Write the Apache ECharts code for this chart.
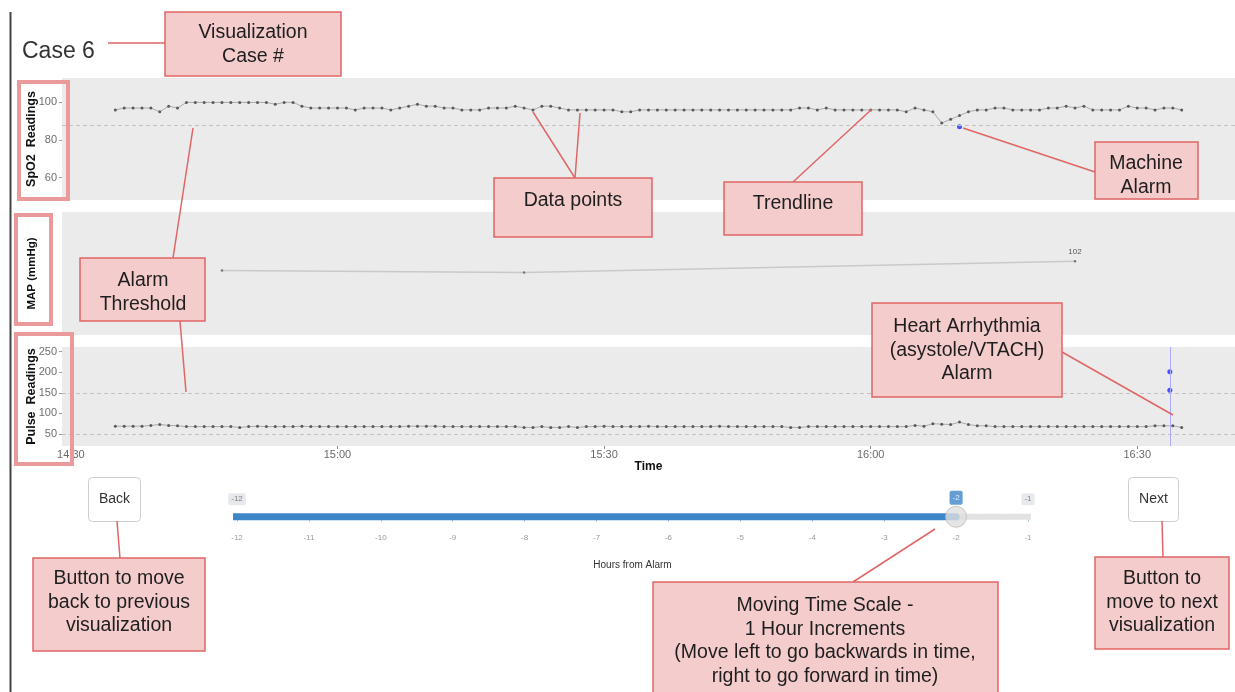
<!DOCTYPE html>
<html><head><meta charset="utf-8">
<script src="https://cdn.jsdelivr.net/npm/echarts@6/dist/echarts.min.js"></script>
<style>html,body{margin:0;padding:0;background:#fff}#c{width:1235px;height:692px}</style>
</head><body><div id="c"></div>
<script>
// ---------------- data ----------------
const caseTitle = 'Case 6';
const firstReading = '14:35';          // readings are one per minute
const spo2Values = [
  96,97,97,97,97,95,98,97,100,100,
  100,100,100,100,100,100,100,100,99,100,
  100,98,97,97,97,97,97,96,97,97,
  97,96,97,98,99,98,98,97,97,96,
  96,96,97,97,97,98,97,96,98,98,
  97,96,96,96,96,96,96,95,95,96,
  96,96,96,96,96,96,96,96,96,96,
  96,96,96,96,96,96,96,97,97,96,
  97,96,96,96,96,96,96,96,96,95,
  97,96,95,89,91,93,95,96,96,97,
  97,96,96,96,96,97,97,98,97,98,
  96,96,96,96,98,97,97,96,97,97,
  96
];
const pulseValues = [
  69,69,69,69,71,73,71,70,68,68,
  68,68,68,68,66,68,69,68,68,68,
  68,69,68,68,68,68,68,68,68,68,
  68,68,68,69,69,69,69,68,68,68,
  68,68,68,68,68,68,66,66,68,66,
  66,68,66,68,68,69,68,68,68,68,
  69,68,68,68,68,68,68,68,69,68,
  68,68,68,68,68,68,66,66,68,68,
  68,68,68,68,68,68,68,68,68,68,
  71,69,75,74,73,79,73,70,70,68,
  68,68,68,68,68,68,68,68,68,68,
  68,68,68,68,68,68,68,70,70,70,
  66
];
const mapTimes = ['14:47', '15:21', '16:23'];
const mapValues = [93, 91, 102];
const spo2AlarmTimes = ['16:10'];
const spo2AlarmValues = [87];
const pulseAlarmTimes = ['16:33:40', '16:33:40'];
const pulseAlarmValues = [201, 156];
const spo2Thresholds = [88];
const pulseThresholds = [150, 50];
const timeTicks = ['14:30', '15:00', '15:30', '16:00', '16:30'];
const spo2Ticks = [60, 80, 100];
const pulseTicks = [50, 100, 150, 200, 250];
const sliderMin = -12, sliderMax = -1, sliderValue = -2;

// ---------------- helpers ----------------
const toMin = s => { const p = s.split(':').map(Number); return p[0] * 60 + p[1] + (p[2] || 0) / 60; };
const fmtTime = m => { const h = Math.floor(m / 60), mm = Math.round(m - h * 60); return h + ':' + String(mm).padStart(2, '0'); };
const t0 = toMin(firstReading);
const spo2Data = spo2Values.map((v, i) => [t0 + i, v]);
const pulseData = pulseValues.map((v, i) => [t0 + i, v]);
const mapData = mapValues.map((v, i) => ({ value: [toMin(mapTimes[i]), v], label: { show: i === mapValues.length - 1 } }));
const spo2Alarm = spo2AlarmValues.map((v, i) => [toMin(spo2AlarmTimes[i]), v]);
const pulseAlarm = pulseAlarmValues.map((v, i) => [toMin(pulseAlarmTimes[i]), v]);
const tickMins = timeTicks.map(toMin);

const FONT = 'Liberation Sans, Arial, Helvetica, sans-serif';
const X_MIN = toMin('14:29'), X_MAX = toMin('16:41');
const PANEL_BG = '#ebebeb';
const LINE_C = '#ababab', DOT_C = '#5a5a5a', THR_C = '#c2c2c2';

const gridBase = { left: 62, width: 1178, show: true, backgroundColor: PANEL_BG, borderWidth: 0 };
const hiddenX = i => ({ type: 'value', gridIndex: i, min: X_MIN, max: X_MAX, show: false });

const thrMark = vals => ({
  silent: true, symbol: ['none', 'none'], label: { show: false },
  lineStyle: { color: THR_C, type: [4, 3], width: 1 },
  data: vals.map(v => ({ yAxis: v }))
});

const yLab = { color: '#6e6e6e', fontSize: 11, margin: 5 };
const yTick = { length: 3, lineStyle: { color: '#9a9a9a' } };
const yName = { fontWeight: 'bold', fontSize: 12.5, color: '#111', fontFamily: FONT };

// ---------------- annotations ----------------
const boxes = [
  { x: 165, y: 12, w: 176, h: 64, cx: 253, ty: 33, t: ['Visualization', 'Case #'] },
  { x: 494, y: 178, w: 158, h: 59, cx: 573, ty: 201, t: ['Data points'] },
  { x: 724, y: 182, w: 138, h: 53, cx: 793, ty: 204, t: ['Trendline'] },
  { x: 1095, y: 142, w: 103, h: 57, cx: 1146, ty: 164, t: ['Machine', 'Alarm'] },
  { x: 80, y: 258, w: 125, h: 63, cx: 143, ty: 281, t: ['Alarm', 'Threshold'] },
  { x: 872, y: 303, w: 190, h: 94, cx: 967, ty: 327, t: ['Heart Arrhythmia', '(asystole/VTACH)', 'Alarm'] },
  { x: 33, y: 558, w: 172, h: 93, cx: 119, ty: 579, t: ['Button to move', 'back to previous', 'visualization'] },
  { x: 653, y: 582, w: 345, h: 120, cx: 825, ty: 606, t: ['Moving Time Scale -', '1 Hour Increments', '(Move left to go backwards in time,', 'right to go forward in time)'] },
  { x: 1095, y: 557, w: 134, h: 92, cx: 1162, ty: 579, t: ['Button to', 'move to next', 'visualization'] }
];
const leaders = [
  [108, 43, 165, 43],
  [575, 178, 533, 112], [575, 178, 580, 113],
  [793, 182, 872, 109],
  [963, 128, 1095, 172],
  [173, 258, 193, 128], [180, 321, 186, 392],
  [1062, 352, 1173, 415],
  [117, 521, 120, 558],
  [935, 529, 853, 582],
  [1162, 521, 1163, 557]
];
const labelFrames = [
  [19, 82, 49, 117], [16, 215, 35, 109], [16, 334, 56, 130]
];
const LH = 23.4;
const graphics = [];
graphics.push({ type: 'line', z: 100, shape: { x1: 10.5, y1: 12, x2: 10.5, y2: 692 }, style: { stroke: '#444', lineWidth: 2 } });
graphics.push({ type: 'text', z: 100, style: { text: caseTitle, x: 22, y: 52, textVerticalAlign: 'middle', fontSize: 23, fontFamily: FONT, fill: '#333' } });
leaders.forEach(l => graphics.push({ type: 'line', z: 101, shape: { x1: l[0], y1: l[1], x2: l[2], y2: l[3] }, style: { stroke: '#e06666', lineWidth: 1.5 } }));
boxes.forEach(b => {
  graphics.push({ type: 'rect', z: 102, shape: { x: b.x, y: b.y, width: b.w, height: b.h }, style: { fill: '#f4cccc', stroke: '#e06666', lineWidth: 1.5 } });
  graphics.push({ type: 'text', z: 103, style: { text: b.t.join('\n'), x: b.cx, y: b.ty - LH / 2, textAlign: 'center', textVerticalAlign: 'top', lineHeight: LH, fontSize: 19.5, fontFamily: FONT, fill: '#1e1e1e' } });
});
labelFrames.forEach(f => graphics.push({ type: 'rect', z: 102, shape: { x: f[0], y: f[1], width: f[2], height: f[3] }, style: { fill: 'none', stroke: '#ea9a9a', lineWidth: 4 } }));
[[88, 477, 52, 'Back'], [1128, 477, 50, 'Next']].forEach(b => {
  graphics.push({ type: 'rect', z: 99, shape: { x: b[0] + 0.5, y: b[1] + 0.5, width: b[2], height: 44, r: 4 }, style: { fill: '#fff', stroke: '#cfcfcf', lineWidth: 1 } });
  graphics.push({ type: 'text', z: 100, style: { text: b[3], x: b[0] + b[2] / 2 + 0.5, y: b[1] + 22, textAlign: 'center', textVerticalAlign: 'middle', fontSize: 14, fontFamily: FONT, fill: '#333' } });
});

// ---------------- chart ----------------
const chart = echarts.init(document.getElementById('c'), null, { renderer: 'canvas' });
chart.setOption({
  animation: false,
  backgroundColor: '#fff',
  textStyle: { fontFamily: FONT },
  grid: [
    Object.assign({ top: 78, height: 122 }, gridBase),
    Object.assign({ top: 212, height: 123 }, gridBase),
    Object.assign({ top: 347, height: 99 }, gridBase),
    { left: 237, width: 791, top: 513.5, height: 6.5, show: false }
  ],
  xAxis: [
    hiddenX(0), hiddenX(1),
    {
      type: 'value', gridIndex: 2, min: X_MIN, max: X_MAX,
      axisLine: { show: false }, splitLine: { show: false },
      axisTick: { show: true, customValues: tickMins, length: 3, lineStyle: { color: '#8a8a8a' } },
      axisLabel: { customValues: tickMins, formatter: v => fmtTime(v), color: '#6a6a6a', fontSize: 11, margin: 3 },
      name: 'Time', nameLocation: 'middle', nameGap: 15, nameMoveOverlap: false,
      nameTextStyle: { fontWeight: 'bold', fontSize: 12, color: '#111' }
    },
    {
      type: 'value', gridIndex: 3, min: sliderMin, max: sliderMax, interval: 1,
      axisLine: { show: false }, splitLine: { show: false },
      axisTick: { show: true, length: 5, lineStyle: { color: '#a9c6e6' } },
      minorTick: { show: true, splitNumber: 3, length: 3, lineStyle: { color: '#cfcfcf' } },
      axisLabel: { color: '#9a9a9a', fontSize: 8, margin: 14 },
      name: 'Hours from Alarm', nameLocation: 'middle', nameGap: 40, nameMoveOverlap: false,
      nameTextStyle: { fontSize: 10, color: '#333' }
    }
  ],
  yAxis: [
    {
      type: 'value', gridIndex: 0, min: 48, max: 113,
      axisLine: { show: false }, splitLine: { show: false },
      axisTick: Object.assign({ show: true, customValues: spo2Ticks }, yTick),
      axisLabel: Object.assign({ customValues: spo2Ticks }, yLab),
      name: 'SpO2  Readings', nameLocation: 'middle', nameGap: 24, nameMoveOverlap: false, nameTextStyle: yName
    },
    {
      type: 'value', gridIndex: 1, min: 30, max: 150,
      axisLine: { show: false }, splitLine: { show: false }, axisTick: { show: false }, axisLabel: { show: false },
      name: 'MAP (mmHg)', nameLocation: 'middle', nameGap: 24, nameMoveOverlap: false, nameTextStyle: Object.assign({}, yName, { fontSize: 11.5 })
    },
    {
      type: 'value', gridIndex: 2, min: 21, max: 261,
      axisLine: { show: false }, splitLine: { show: false },
      axisTick: Object.assign({ show: true, customValues: pulseTicks }, yTick),
      axisLabel: Object.assign({ customValues: pulseTicks }, yLab),
      name: 'Pulse  Readings', nameLocation: 'middle', nameGap: 24, nameMoveOverlap: false, nameTextStyle: yName
    },
    { type: 'value', gridIndex: 3, min: -1, max: 1, show: false }
  ],
  series: [
    {
      type: 'line', xAxisIndex: 0, yAxisIndex: 0, data: spo2Data, silent: true,
      symbol: 'circle', symbolSize: 3, showAllSymbol: true,
      lineStyle: { color: LINE_C, width: 1 }, itemStyle: { color: DOT_C },
      markLine: thrMark(spo2Thresholds)
    },
    {
      type: 'scatter', xAxisIndex: 0, yAxisIndex: 0, data: spo2Alarm, silent: true,
      symbolSize: 5, itemStyle: { color: '#1f2bff' }
    },
    {
      type: 'line', xAxisIndex: 1, yAxisIndex: 1, data: mapData, silent: true,
      symbol: 'circle', symbolSize: 2.5, showAllSymbol: true,
      lineStyle: { color: '#c9c9c9', width: 1.5 }, itemStyle: { color: '#777' },
      label: { position: 'top', distance: 4, fontSize: 8, color: '#555', formatter: p => p.value[1] }
    },
    {
      type: 'line', xAxisIndex: 2, yAxisIndex: 2, data: pulseData, silent: true,
      symbol: 'circle', symbolSize: 3, showAllSymbol: true,
      lineStyle: { color: LINE_C, width: 1 }, itemStyle: { color: DOT_C },
      markLine: thrMark(pulseThresholds)
    },
    {
      type: 'scatter', xAxisIndex: 2, yAxisIndex: 2, data: pulseAlarm, silent: true,
      symbolSize: 5, itemStyle: { color: '#1f2bff' }, z: 4,
      markLine: {
        silent: true, symbol: ['none', 'none'], label: { show: false },
        lineStyle: { color: '#a6acff', type: 'solid', width: 1 },
        data: [{ xAxis: pulseAlarm[0][0] }]
      }
    },
    // slider track (filled part + rest)
    {
      type: 'line', xAxisIndex: 3, yAxisIndex: 3, silent: true, clip: false, symbol: 'none',
      data: [[sliderMin - 0.1, 0], [sliderValue, 0]],
      lineStyle: { color: '#3f86c9', width: 7, cap: 'round' }, z: 2
    },
    {
      type: 'line', xAxisIndex: 3, yAxisIndex: 3, silent: true, clip: false, symbol: 'none',
      data: [[sliderValue, 0], [sliderMax + 0.12, 0]],
      lineStyle: { color: '#e2e2e2', width: 6, cap: 'round' }, z: 1
    },
    {
      type: 'scatter', xAxisIndex: 3, yAxisIndex: 3, silent: true, symbolSize: 1,
      data: [[sliderMin, 0], [sliderMax, 0]], itemStyle: { color: 'rgba(0,0,0,0)' },
      label: {
        show: true, position: 'top', distance: 11, formatter: p => p.value[0],
        fontSize: 8, color: '#666', backgroundColor: '#e1e4e9', padding: [2, 3], borderRadius: 2
      }
    },
    {
      type: 'scatter', xAxisIndex: 3, yAxisIndex: 3, silent: true, symbolSize: 21, z: 5,
      data: [[sliderValue, 0]],
      itemStyle: { color: '#dedede', borderColor: '#bdbdbd', borderWidth: 1 },
      label: {
        show: true, position: 'top', distance: 1, formatter: p => p.value[0],
        fontSize: 8, color: '#fff', backgroundColor: '#3f86c9', padding: [3, 3], borderRadius: 2
      }
    }
  ],
  graphic: graphics
});
</script></body></html>
